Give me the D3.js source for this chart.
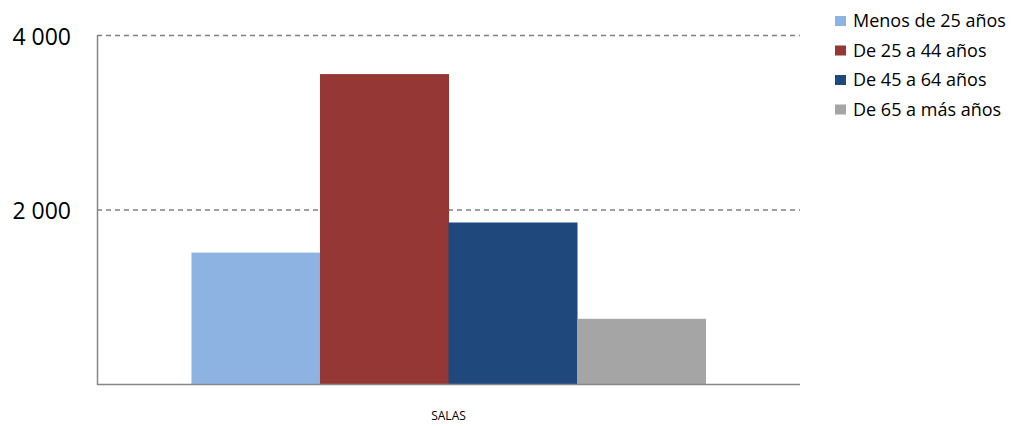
<!DOCTYPE html>
<html><head><meta charset="utf-8">
<script src="https://cdn.jsdelivr.net/npm/d3@7"></script>
<style>body{margin:0;background:#fff;}svg{display:block;font-family:"Open Sans",sans-serif;}</style>
</head><body><svg id="c" width="1021" height="427"></svg>
<script>
const categories = ["SALAS"];
const seriesNames = ["Menos de 25 años","De 25 a 44 años","De 45 a 64 años","De 65 a más años"];
const seriesValues = [1506, 3552, 1851, 747];
const seriesColors = ["#8DB3E2","#953735","#1F497D","#A5A5A5"];
const yTicks = [2000, 4000];
const yTickLabels = ["2 000","4 000"];

const svg = d3.select("#c");
const m = {left:97, right:800, top:35, bottom:384};
const x0 = d3.scaleBand().domain(categories).range([m.left, m.right]).paddingInner(0).paddingOuter(0);
const groupW = x0.bandwidth() * 4 / (4 + 1.47);
const x1 = d3.scaleBand().domain(seriesNames).range([0, groupW]).padding(0);
const y = d3.scaleLinear().domain([0, 4000]).range([m.bottom, m.top]);

// gridlines
svg.append("g").selectAll("line").data(yTicks).join("line")
  .attr("x1", m.left).attr("x2", m.right)
  .attr("y1", d=>y(d)+0.5).attr("y2", d=>y(d)+0.5)
  .attr("stroke","#808080").attr("stroke-width",1.3).attr("stroke-dasharray","5,4");

// bars
const g = svg.append("g");
categories.forEach(c=>{
  const off = x0(c) + (x0.bandwidth()-groupW)/2;
  g.selectAll("rect").data(seriesValues).join("rect")
    .attr("x",(d,i)=>off + x1(seriesNames[i]))
    .attr("width", x1.bandwidth()+0.5)
    .attr("y", d=>y(d)).attr("height", d=>y(0)-y(d))
    .attr("fill",(d,i)=>seriesColors[i]);
});

// axes
const yAxis = d3.axisLeft(y).tickValues(yTicks).tickFormat((d,i)=>yTickLabels[i]).tickSize(0).tickPadding(26);
const ya = svg.append("g").attr("transform",`translate(${m.left},2)`).call(yAxis);
ya.select(".domain").remove();
ya.selectAll("text").attr("font-size",23).attr("fill","#000").attr("font-family","Open Sans, sans-serif");
svg.append("line").attr("x1",m.left+0.5).attr("x2",m.left+0.5).attr("y1",m.top).attr("y2",m.bottom+1)
  .attr("stroke","#868686").attr("stroke-width",1.5);
svg.append("line").attr("x1",m.left).attr("x2",m.right).attr("y1",m.bottom+0.5).attr("y2",m.bottom+0.5)
  .attr("stroke","#868686").attr("stroke-width",1.5);

const xAxis = d3.axisBottom(x0).tickSize(0).tickPadding(27);
const xa = svg.append("g").attr("transform",`translate(0,${m.bottom})`).call(xAxis);
xa.select(".domain").remove();
xa.selectAll("text").attr("font-size",12).attr("fill","#000").attr("font-family","Open Sans, sans-serif");

// legend
const lg = svg.append("g").attr("transform","translate(835,21)");
seriesNames.forEach((n,i)=>{
  const r = lg.append("g").attr("transform",`translate(0,${i*29.5})`);
  r.append("rect").attr("x",0).attr("y",-5).attr("width",11).attr("height",10).attr("fill",seriesColors[i]);
  r.append("text").attr("x",18).attr("y",0).attr("dy","0.35em").attr("font-size",18).attr("fill","#000").text(n);
});
</script></body></html>
